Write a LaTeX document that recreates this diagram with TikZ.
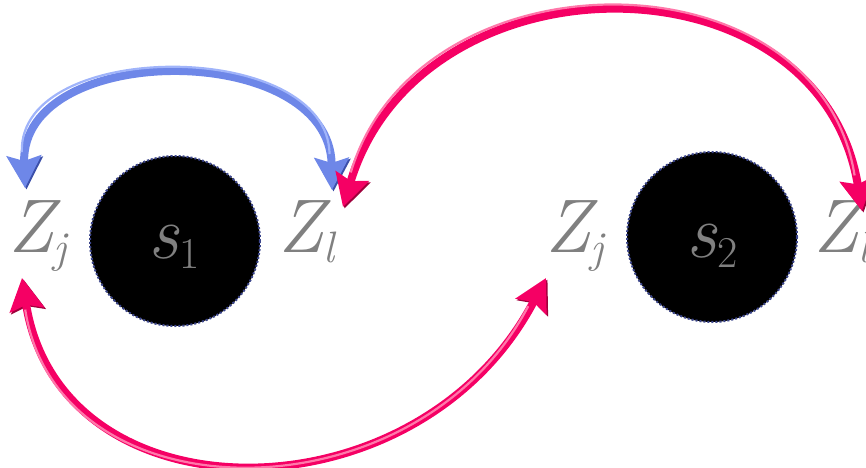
\documentclass[tikz,border=0pt]{standalone}
\usetikzlibrary{arrows.meta}

\definecolor{zgrey}{RGB}{128,128,128}
\definecolor{hubedge}{RGB}{60,70,140}
\definecolor{swapblue}{RGB}{110,135,232}
\definecolor{swapbluedark}{RGB}{60,80,170}
\definecolor{swapbluelight}{RGB}{160,180,250}
\definecolor{swappink}{RGB}{245,0,100}
\definecolor{swappinkdark}{RGB}{160,0,60}
\definecolor{swappinklight}{RGB}{255,120,170}

\newcommand{\zsub}[1]{\raisebox{-10pt}{\fontsize{44}{44}\selectfont #1}}

\begin{document}
\begin{tikzpicture}[
  x=1pt, y=-1pt,
  zlabel/.style={
    text=zgrey,
    font=\fontsize{76}{76}\selectfont\itshape,
    inner sep=0pt,
    anchor=base west
  },
  hub/.style={
    circle,
    fill=black,
    draw=hubedge,
    line width=2pt,
    dash pattern=on 2pt off 2pt,
    minimum size=170pt,
    inner sep=0pt
  },
  hubtext/.style={
    text=zgrey,
    font=\fontsize{76}{76}\selectfont,
    anchor=base,
    inner sep=0pt
  },
  swap/.style={
    line width=8pt,
    {Stealth[length=32pt, width=34pt, inset=5pt]}-{Stealth[length=32pt, width=34pt, inset=5pt]},
    preaction={draw=#1dark, transform canvas={shift={(1.5pt,-1.5pt)}}},
    draw=#1,
    postaction={draw=#1light, -, line width=2.2pt, shorten >=34pt, shorten <=34pt,
      transform canvas={shift={(-2pt,2pt)}}}
  }
]
\useasboundingbox (0,0) rectangle (866,467);

% stations
\node[hub] (s1) at (175,241) {};
\node[hub] (s2) at (712,237) {};
\node[hubtext] (s1t) at (174,258) {\textit{s}\zsub{1}};
\node[hubtext] (s2t) at (712,257) {\textit{s}\zsub{2}};

% labels
\node[zlabel] (zj1) at (8,252) {Z\zsub{j}};
\node[zlabel] (zl1) at (278,252) {Z\zsub{l}};
\node[zlabel] (zj2) at (545,252) {Z\zsub{j}};
\node[zlabel] (zl2) at (813,252) {Z\zsub{l}};

% arrow ends
\coordinate (a1) at (25,188);
\coordinate (a2) at (332,190);
\coordinate (b1) at (343,207);
\coordinate (b2) at (862,211);
\coordinate (c1) at (22,278);
\coordinate (c2) at (546,278);

\draw[swap=swapblue] (a2) .. controls (330,40) and (20,40) .. (a1);
\draw[swap=swappink] (b1) .. controls (420,-50) and (820,-50) .. (b2);
\draw[swap=swappink] (c1) .. controls (60,523) and (418,523) .. (c2);
\end{tikzpicture}
\end{document}
